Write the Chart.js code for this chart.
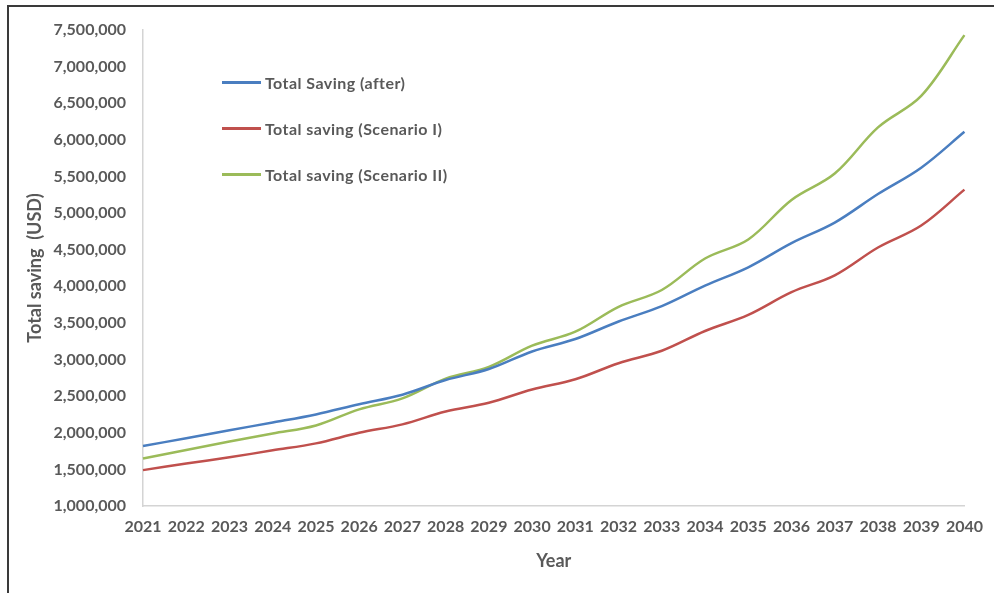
<!DOCTYPE html>
<html>
<head>
<meta charset="utf-8">
<script src="https://cdn.jsdelivr.net/npm/chart.js@4.4.1/dist/chart.umd.min.js"></script>
<style>
  html, body { margin: 0; padding: 0; background: #fff; }
  #wrap { position: relative; width: 994px; height: 593px; overflow: hidden; }
  #frame { position: absolute; left: 7px; top: 5px; right: -4px; bottom: -4px; border-top: 2px solid #3a3a3a; border-left: 2px solid #3a3a3a; pointer-events: none; }
  #legend { position: absolute; left: 222px; top: 71px; font-family: Lato, "Open Sans", sans-serif; font-weight: bold; font-size: 16px; letter-spacing: 0.45px; color: #595959; }
  .li { display: flex; align-items: center; height: 23px; margin-bottom: 23px; white-space: pre; }
  .sw { width: 39px; height: 2.5px; margin-right: 4px; }
</style>
</head>
<body>
<div id="wrap">
  <canvas id="c" width="994" height="593"></canvas>
  <div id="frame"></div>
  <div id="legend"></div>
</div>
<script>
const years = ["2021","2022","2023","2024","2025","2026","2027","2028","2029","2030","2031","2032","2033","2034","2035","2036","2037","2038","2039","2040"];
const seriesLabels = ["Total Saving (after)", "Total saving (Scenario I)", "Total saving (Scenario II)"];
const totalSavingAfter = [1820000,1925000,2035000,2140000,2250000,2390000,2520000,2720000,2870000,3110000,3280000,3520000,3730000,4010000,4260000,4590000,4870000,5260000,5620000,6110000];
const savingScenarioI  = [1490000,1580000,1665000,1760000,1855000,2000000,2115000,2290000,2410000,2590000,2730000,2950000,3120000,3390000,3610000,3920000,4150000,4530000,4830000,5320000];
const savingScenarioII = [1650000,1765000,1880000,1990000,2100000,2320000,2470000,2740000,2900000,3190000,3380000,3720000,3950000,4380000,4640000,5180000,5540000,6170000,6600000,7430000];
const yTicks = { min: 1000000, max: 7500000, step: 500000 };
const colors = ["#4A7EC0", "#C0504D", "#9BBB59"];
const axisTitleX = "Year";
const axisTitleY = "Total saving  (USD)";

const fontFam = "Lato, 'Open Sans', sans-serif";
const grey = "#595959";

const datasets = [totalSavingAfter, savingScenarioI, savingScenarioII].map((d, i) => ({
  label: seriesLabels[i],
  data: d,
  borderColor: colors[i],
  backgroundColor: colors[i],
  borderWidth: 2.5,
  pointRadius: 0,
  tension: 0.35,
  fill: false
}));

new Chart(document.getElementById('c'), {
  type: 'line',
  data: { labels: years, datasets },
  options: {
    responsive: false,
    animation: false,
    layout: { padding: { left: 9, top: 30, right: 29, bottom: 0 } },
    plugins: { legend: { display: false }, tooltip: { enabled: false } },
    scales: {
      x: {
        offset: false,
        grid: { display: false, drawTicks: false },
        border: { display: true, color: "#d4d4d4", width: 1.5 },
        ticks: { color: grey, font: { family: fontFam, size: 16, weight: 'bold' }, padding: 11, maxRotation: 0, autoSkip: false },
        title: { display: true, text: axisTitleX, color: grey, font: { family: fontFam, size: 18, weight: 'bold' }, padding: { top: 0, bottom: 21 } },
        afterFit: (s) => { s.height = 87; }
      },
      y: {
        min: yTicks.min, max: yTicks.max,
        grid: { display: false, drawTicks: false },
        border: { display: true, color: "#d4d4d4", width: 1.5 },
        ticks: { stepSize: yTicks.step, color: grey, font: { family: fontFam, size: 16, weight: 'bold' }, padding: 17,
                 callback: (v) => Number(v).toLocaleString('en-US') },
        title: { display: true, text: axisTitleY, color: grey, font: { family: fontFam, size: 18, weight: 'bold' }, padding: { top: 15, bottom: 0 } },
        afterFit: (s) => { s.width = 134; }
      }
    }
  }
});

const lg = document.getElementById('legend');
datasets.forEach(ds => {
  const row = document.createElement('div');
  row.className = 'li';
  const sw = document.createElement('span');
  sw.className = 'sw';
  sw.style.background = ds.borderColor;
  const tx = document.createElement('span');
  tx.textContent = ds.label;
  row.appendChild(sw); row.appendChild(tx);
  lg.appendChild(row);
});
</script>
</body>
</html>
